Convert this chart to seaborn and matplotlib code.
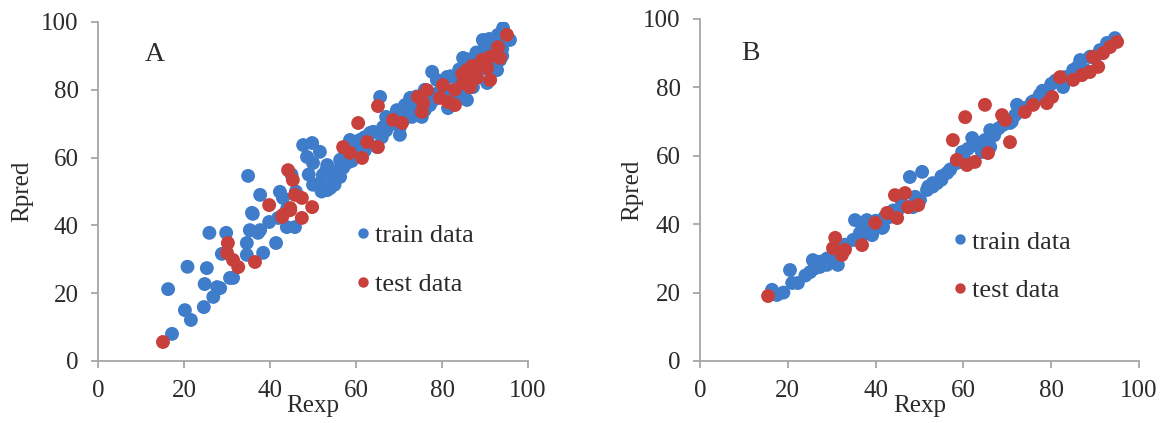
import numpy as np
import pandas as pd
import matplotlib
matplotlib.use("Agg")
import matplotlib.pyplot as plt
from matplotlib.lines import Line2D
import seaborn as sns

# ---- Panel A: experimental vs predicted (first model) ----
a_train_x = [16.3, 17.2, 20.8, 20.2, 21.6, 25.9, 25.3, 24.8, 24.6, 26.8, 28.4, 29.8, 28.8, 30.7,
             31.4, 27.7, 36.0, 35.3, 34.6, 34.6, 37.2, 38.4, 41.4, 34.9, 37.7, 35.8, 37.7, 42.3,
             41.9, 43.9, 45.8, 43.0, 47.7, 49.8, 48.6, 50.0, 51.6, 53.3, 51.6, 53.3, 54.7, 56.3,
             57.9, 59.3, 60.9, 63.3, 64.9, 58.6, 56.3, 61.6, 64.0, 66.3, 65.6, 70.2, 70.2, 69.5,
             70.7, 71.4, 72.6, 75.3, 77.2, 77.7, 78.8, 81.2, 83.5, 81.9, 81.4, 85.8, 87.2, 90.5,
             92.8, 93.5, 84.9, 86.5, 89.5, 90.0, 92.8, 93.0, 94.2, 95.8, 45.0, 46.0, 52.3, 39.8,
             44.0, 73.0, 68.0, 74.0, 76.0, 88.0, 91.0, 94.0, 67.0, 62.0, 55.0, 57.0,
             49.0, 50.0, 52.0, 54.0, 55.0, 56.0, 57.0, 53.0, 59.0, 60.0, 62.0, 63.0, 66.0, 67.0,
             69.0, 71.0, 72.0, 73.0, 74.0, 76.0, 78.0, 79.0, 80.0, 82.0, 84.0, 86.0, 88.0, 90.0,
             91.0, 93.0, 94.0, 95.0, 92.0, 89.0, 87.0, 85.0, 83.0, 82.0]
a_train_y = [21.2, 8.0, 27.8, 15.0, 12.1, 37.8, 27.4, 22.7, 15.9, 18.9, 21.5, 37.8, 31.6, 24.5,
             24.5, 21.8, 43.4, 38.6, 34.8, 31.3, 37.8, 31.9, 34.8, 54.6, 49.0, 43.7, 38.6, 49.9,
             42.2, 39.5, 39.5, 48.1, 63.7, 64.3, 60.2, 58.4, 61.7, 57.8, 52.5, 50.4, 53.4, 54.3,
             58.4, 62.2, 65.2, 67.3, 63.1, 65.2, 59.3, 64.3, 67.6, 69.0, 77.9, 66.7, 69.0, 74.0,
             72.0, 75.5, 77.6, 72.0, 75.5, 85.3, 82.9, 83.8, 83.5, 79.9, 74.6, 77.0, 80.8, 82.0,
             85.8, 88.8, 89.4, 87.9, 94.7, 91.2, 92.6, 96.2, 98.2, 94.7, 55.0, 50.0, 54.9, 41.0,
             45.0, 72.0, 70.0, 78.0, 80.0, 84.0, 88.0, 90.0, 72.0, 62.0, 56.0, 57.0,
             55.0, 52.0, 50.0, 51.0, 52.0, 56.0, 60.0, 56.0, 59.0, 62.0, 66.0, 64.0, 66.0, 68.0,
             70.0, 71.0, 73.0, 75.0, 73.0, 74.0, 77.0, 79.0, 82.0, 84.0, 86.0, 89.0, 91.0, 93.0,
             95.0, 94.0, 92.0, 96.0, 87.0, 86.0, 84.0, 80.0, 78.0, 76.0]
a_test_x = [15.1, 30.2, 30.0, 31.4, 32.6, 36.5, 39.8, 43.0, 44.7, 44.2, 45.3, 45.8, 47.4, 49.8,
            44.7, 42.8, 47.4, 57.0, 58.6, 61.4, 62.6, 60.5, 65.1, 65.1, 68.6, 70.7, 74.4, 75.6,
            75.3, 76.5, 79.5, 81.4, 83.0, 80.2, 84.7, 84.9, 85.8, 86.5, 88.1, 88.1, 89.3, 90.5,
            91.2, 91.2, 93.0, 93.5, 95.1, 86.0, 87.0, 83.0]
a_test_y = [5.6, 34.8, 31.9, 29.8, 27.7, 29.2, 46.0, 43.1, 44.5, 56.3, 53.4, 49.0, 48.1, 45.4,
            45.1, 42.5, 42.2, 63.1, 61.4, 59.9, 64.6, 70.2, 75.2, 63.1, 71.1, 70.2, 77.9, 76.1,
            73.5, 79.9, 77.6, 76.4, 75.5, 81.4, 84.7, 82.0, 85.8, 80.8, 83.5, 86.7, 88.8, 86.4,
            82.9, 89.7, 92.6, 89.4, 96.2, 83.0, 87.0, 80.0]

# ---- Panel B: experimental vs predicted (second model) ----
b_train_x = [16.4, 17.5, 20.5, 21.0, 22.3, 25.1, 25.7, 27.3, 28.9, 30.3, 31.4, 28.5, 31.2, 35.3,
             38.0, 34.9, 36.4, 38.0, 41.5, 36.9, 39.2, 41.7, 47.8, 50.6, 51.7, 54.0, 56.3, 58.5,
             48.5, 50.1, 59.7, 58.8, 64.2, 62.0, 66.1, 64.9, 66.1, 70.6, 71.8, 72.2, 75.6, 77.4,
             79.0, 82.7, 85.0, 87.7, 86.6, 88.8, 91.1, 92.7, 94.5, 43.0, 45.0, 46.0, 53.0, 55.0,
             57.0, 60.0, 68.0, 74.0, 80.0, 84.0, 90.0, 93.0, 24.0, 33.0, 32.0, 19.0,
             26.0, 27.0, 29.0, 33.0, 40.0, 42.0, 44.0, 49.0, 52.0, 53.0, 55.0, 61.0, 63.0, 67.0,
             69.0, 71.0, 73.0, 76.0, 78.0, 81.0, 83.0, 86.0, 89.0, 92.0, 94.0]
b_train_y = [20.8, 19.3, 26.6, 22.8, 22.8, 26.0, 29.5, 27.5, 28.1, 29.5, 28.1, 29.5, 28.7, 41.2,
             41.2, 35.4, 37.4, 37.4, 38.9, 38.3, 36.8, 39.2, 53.8, 55.3, 50.0, 52.0, 55.0, 57.9,
             45.0, 47.1, 61.1, 58.8, 61.1, 65.2, 62.6, 64.6, 67.5, 69.6, 71.9, 74.9, 75.7, 77.8,
             79.2, 80.1, 85.1, 85.1, 88.0, 88.9, 90.9, 93.0, 94.4, 42.0, 44.0, 46.0, 51.0, 53.0,
             56.0, 60.0, 68.0, 74.0, 81.0, 83.0, 89.0, 92.0, 25.0, 33.0, 31.0, 20.0,
             27.0, 29.0, 30.0, 34.0, 41.0, 42.0, 44.0, 48.0, 51.0, 52.0, 54.0, 62.0, 63.0, 66.0,
             69.0, 70.0, 73.0, 76.0, 79.0, 82.0, 83.0, 86.0, 89.0, 91.0, 93.0]
b_test_x = [15.5, 30.8, 30.3, 33.0, 32.3, 36.9, 39.9, 42.6, 44.4, 46.7, 44.9, 47.4, 49.7, 57.6,
            58.5, 60.8, 62.6, 65.6, 60.4, 64.9, 68.8, 69.5, 70.6, 74.0, 75.9, 79.0, 80.2, 82.0,
            85.0, 87.0, 88.8, 90.7, 89.5, 91.8, 93.4, 95.0]
b_test_y = [19.0, 36.0, 33.0, 32.5, 31.0, 33.9, 40.4, 43.3, 48.5, 49.1, 41.8, 45.0, 45.6, 64.6,
            58.8, 57.3, 58.2, 60.8, 71.3, 74.9, 71.9, 70.5, 64.0, 72.8, 74.9, 75.4, 77.2, 83.0,
            82.2, 83.6, 84.5, 86.0, 88.9, 90.0, 91.8, 93.3]

set_labels = ["train data", "test data"]
set_colors = {"train data": "#3F7DCB", "test data": "#C8403C"}
ticks = [0, 20, 40, 60, 80, 100]

sns.set_style("white")
plt.rcParams["font.family"] = ["Liberation Serif", "DejaVu Serif"]

TEXT = "#2b2b2b"
AXIS = "#a6a6a6"
FS = 18


def make_frame(tx, ty, vx, vy):
    return pd.DataFrame({
        "Rexp": list(tx) + list(vx),
        "Rpred": list(ty) + list(vy),
        "set": [set_labels[0]] * len(tx) + [set_labels[1]] * len(vx),
    })


fig = plt.figure(figsize=(11.63, 4.23), dpi=100)
ax_a = fig.add_axes([0.0843, 0.1466, 0.3697, 0.8014])
ax_b = fig.add_axes([0.6019, 0.1466, 0.3775, 0.8085])

panels = [
    (ax_a, make_frame(a_train_x, a_train_y, a_test_x, a_test_y), "A", (0.133, 0.903),
     (0.598, 0.298), -0.151),
    (ax_b, make_frame(b_train_x, b_train_y, b_test_x, b_test_y), "B", (0.114, 0.900),
     (0.575, 0.277), -0.130),
]

for ax, df, letter, letter_pos, legend_pos, ylab_x in panels:
    sns.scatterplot(data=df, x="Rexp", y="Rpred", hue="set", palette=set_colors,
                    hue_order=set_labels, s=100, linewidth=0, alpha=1.0, legend=False, ax=ax)
    ax.set_xlim(0, 100)
    ax.set_ylim(0, 100)
    ax.set_xticks(ticks)
    ax.set_yticks(ticks)
    for side in ("top", "right"):
        ax.spines[side].set_visible(False)
    for side in ("left", "bottom"):
        ax.spines[side].set_color(AXIS)
        ax.spines[side].set_linewidth(1.3)
    ax.tick_params(axis="both", which="major", length=5, width=1.3, color=AXIS,
                   direction="out", pad=9, labelsize=FS, labelcolor=TEXT,
                   bottom=True, left=True)
    ax.set_xlabel("Rexp", fontsize=FS, color=TEXT)
    ax.set_ylabel("Rpred", fontsize=FS, color=TEXT)
    ax.xaxis.set_label_coords(0.5, -0.10)
    ax.yaxis.set_label_coords(ylab_x, 0.5)
    ax.text(letter_pos[0], letter_pos[1], letter, transform=ax.transAxes, fontsize=20,
            color=TEXT, ha="center", va="center")

    handles = [Line2D([0], [0], marker="o", linestyle="none", markersize=7.5,
                      markerfacecolor=set_colors[k], markeredgewidth=0) for k in set_labels]
    ax.legend(handles, set_labels, loc="center left", bbox_to_anchor=legend_pos,
              frameon=False, fontsize=19, labelcolor=TEXT, handlelength=0.6,
              handletextpad=0.15, labelspacing=0.95, borderpad=0, borderaxespad=0)

fig.savefig("out.png", dpi=100, facecolor="white")
